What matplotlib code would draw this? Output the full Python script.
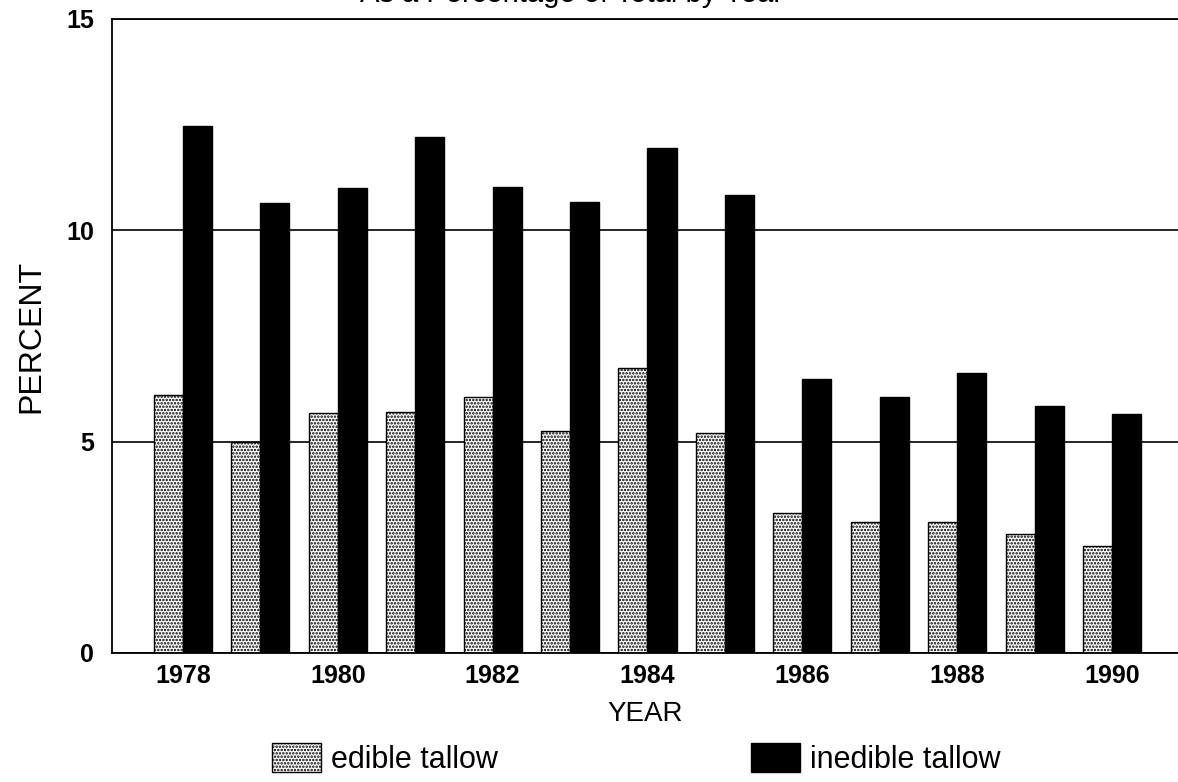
import numpy as np
import matplotlib.pyplot as plt
from matplotlib.patches import Patch

plt.rcParams['font.family'] = ['Liberation Sans', 'DejaVu Sans']
plt.rcParams['hatch.linewidth'] = 1.2

years = list(range(1978, 1991))
edible = [6.1, 5.0, 5.68, 5.7, 6.06, 5.25, 6.74, 5.2, 3.31, 3.1, 3.1, 2.82, 2.53]
inedible = [12.47, 10.65, 11.0, 12.2, 11.03, 10.67, 11.95, 10.83, 6.48, 6.06, 6.62, 5.84, 5.65]
yticks = [0, 5, 10, 15]

W, H = 1178, 782
fig = plt.figure(figsize=(W / 100, H / 100), dpi=100)
ax = fig.add_axes([112 / W, 1 - 653 / H, (W - 112) / W, (653 - 19) / H])

x = np.arange(len(years))
w = 0.375
ax.bar(x - w / 2, edible, w, color='white', edgecolor='black', hatch='.....', linewidth=1.0)
ax.bar(x + w / 2, inedible, w, color='black', edgecolor='black')

ax.set_xlim(-0.917, len(years) - 1 + 0.853)
ax.set_ylim(0, 15)
ax.set_yticks(yticks)
ax.set_yticklabels([str(v) for v in yticks], fontsize=18, fontweight='bold')
ax.set_xticks(x[::2])
ax.set_xticklabels([str(y) for y in years[::2]], fontsize=18, fontweight='bold')
ax.tick_params(length=0, pad=8)
ax.tick_params(axis='y', pad=13)
ax.yaxis.grid(True, color='black', linewidth=1.2)
ax.set_axisbelow(True)
ax.spines['right'].set_visible(False)
for s in ['left', 'bottom', 'top']:
    ax.spines[s].set_linewidth(1.3)

ax.set_xlabel('YEAR', fontsize=20, labelpad=9)
ax.set_ylabel('PERCENT', fontsize=23, labelpad=14)

# title cut off at the top of the scan
fig.text(0.485, 1 - 2 / H, 'As a Percentage of Total by Year', fontsize=21,
         ha='center', va='baseline')

handles = [Patch(facecolor='white', edgecolor='black', hatch='.....', linewidth=1.0),
           Patch(facecolor='black', edgecolor='black')]
fig.legend(handles, ['edible tallow', 'inedible tallow'], loc='upper left',
           bbox_to_anchor=(272 / W, 1 - 743 / H), ncol=2, frameon=False,
           fontsize=22, handlelength=1.6, handleheight=1.1, handletextpad=0.33,
           columnspacing=8.3, borderpad=0, borderaxespad=0)

fig.savefig('out.png', dpi=100)
